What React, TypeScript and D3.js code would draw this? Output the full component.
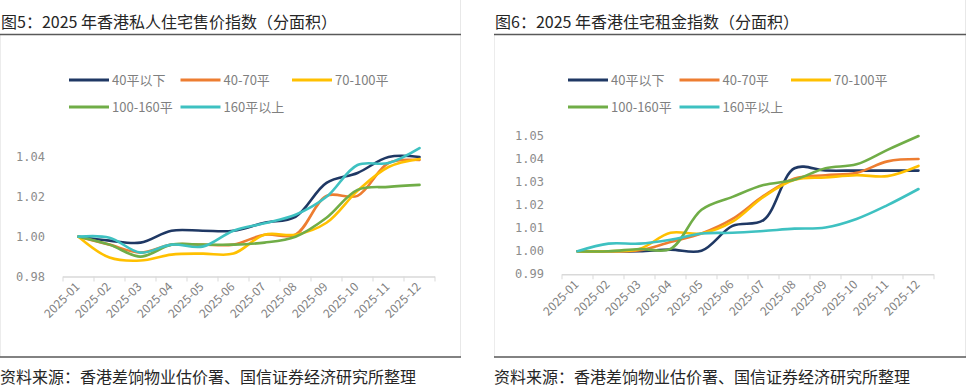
import React from 'react';
import * as d3 from 'd3';

const months = ['2025-01', '2025-02', '2025-03', '2025-04', '2025-05', '2025-06', '2025-07', '2025-08', '2025-09', '2025-10', '2025-11', '2025-12'];
const seriesNames = ['40平以下', '40-70平', '70-100平', '100-160平', '160平以上'];
const seriesColors = ['#1F3864', '#ED7D31', '#FFC000', '#70AD47', '#3EC1C1'];

// 图5 售价指数
const saleUnder40 = [1.000, 0.998, 0.997, 1.003, 1.003, 1.003, 1.007, 1.010, 1.027, 1.032, 1.040, 1.040];
const sale40to70 = [1.000, 0.996, 0.992, 0.996, 0.996, 0.996, 1.001, 1.001, 1.0205, 1.0205, 1.037, 1.0385];
const sale70to100 = [1.000, 0.9895, 0.988, 0.991, 0.9915, 0.9915, 1.001, 1.001, 1.007, 1.023, 1.035, 1.039];
const sale100to160 = [1.000, 0.996, 0.990, 0.996, 0.996, 0.996, 0.997, 1.000, 1.0095, 1.0235, 1.025, 1.026];
const saleOver160 = [1.000, 0.9995, 0.992, 0.996, 0.995, 1.003, 1.0067, 1.011, 1.020, 1.036, 1.037, 1.0445];
const saleTicks = [0.98, 1.0, 1.02, 1.04];

// 图6 租金指数
const rentUnder40 = [1.000, 1.000, 1.000, 1.0007, 1.0002, 1.011, 1.0135, 1.036, 1.035, 1.035, 1.035, 1.035];
const rent40to70 = [1.000, 1.000, 1.0004, 1.004, 1.0077, 1.014, 1.024, 1.0316, 1.033, 1.034, 1.039, 1.040];
const rent70to100 = [1.000, 1.000, 1.001, 1.008, 1.0077, 1.0128, 1.0236, 1.031, 1.032, 1.033, 1.0326, 1.037];
const rent100to160 = [1.000, 1.000, 1.001, 1.001, 1.018, 1.0236, 1.0287, 1.031, 1.036, 1.0377, 1.044, 1.050];
const rentOver160 = [1.000, 1.0033, 1.0033, 1.005, 1.0077, 1.008, 1.0088, 1.0098, 1.0103, 1.014, 1.020, 1.027];
const rentTicks = [0.99, 1.0, 1.01, 1.02, 1.03, 1.04, 1.05];

const CJK = '"Noto Sans CJK SC", "Noto Sans", sans-serif';

interface PanelProps {
  left: number;
  right: number;
  title: string;
  series: number[][];
  ticks: number[];
  yTop: number;
  yBottom: number;
  plotX0: number;
  plotX1: number;
}

const Panel: React.FC<PanelProps> = ({ left, right, title, series, ticks, yTop, yBottom, plotX0, plotX1 }) => {
  const x = d3.scaleBand<string>().domain(months).range([plotX0, plotX1]);
  const y = d3.scaleLinear()
    .domain([ticks[0], ticks[ticks.length - 1]])
    .range([yBottom, yTop]);
  const line = d3.line<number>()
    .x((_, i) => (x(months[i]) as number) + x.bandwidth() / 2)
    .y(d => y(d))
    .curve(d3.curveCatmullRom.alpha(0.5));
  const boundaries = d3.range(months.length + 1).map(i => plotX0 + i * x.bandwidth());

  return (
    <g>
      {/* panel frame */}
      <line x1={right - 0.5} x2={right - 0.5} y1={0} y2={357} stroke="#e8e8e8" />
      <line x1={left + 0.5} x2={left + 0.5} y1={35} y2={357} stroke="#ececec" />
      <text x={left + 1} y={28} fontSize={16} fontFamily={CJK} fill="#262626">{title}</text>
      <line x1={left} x2={right} y1={34.5} y2={34.5} stroke="#595959" strokeWidth={1.3} />

      {/* legend */}
      {seriesNames.map((name, i) => {
        const col = i < 3 ? i : i - 3;
        const row = i < 3 ? 0 : 1;
        const lx = plotX0 + 6 + col * 111.5;
        const ly = 80 + row * 27;
        return (
          <g key={name}>
            <line x1={lx} x2={lx + 40} y1={ly} y2={ly} stroke={seriesColors[i]} strokeWidth={3} />
            <text x={lx + 43} y={ly + 4.5} fontSize={13} fontFamily={CJK} fill="#7f7f7f">{name}</text>
          </g>
        );
      })}

      {/* y tick labels */}
      {ticks.map(t => (
        <text key={t} x={plotX0 - 18} y={y(t) + 4} textAnchor="end" fontSize={12}
          fontFamily='"DejaVu Sans Mono", monospace' fill="#8c8c8c">{t.toFixed(2)}</text>
      ))}

      {/* x axis */}
      <line x1={plotX0} x2={plotX1} y1={yBottom + 0.5} y2={yBottom + 0.5} stroke="#d9d9d9" strokeWidth={1.5} />
      {boundaries.map((b, i) => (
        <line key={i} x1={b} x2={b} y1={yBottom} y2={yBottom + 5} stroke="#d9d9d9" />
      ))}
      {months.map(m => {
        const cx = (x(m) as number) + x.bandwidth() / 2;
        return (
          <text key={m} transform={`translate(${cx + 2},${yBottom + 11}) rotate(-45)`} textAnchor="end"
            fontSize={12} fontFamily={CJK} fill="#7f7f7f">{m}</text>
        );
      })}

      {/* series */}
      {series.map((s, i) => (
        <path key={i} d={line(s) || ''} fill="none" stroke={seriesColors[i]} strokeWidth={2.6}
          strokeLinejoin="round" strokeLinecap="round" />
      ))}

      {/* source */}
      <line x1={left} x2={right} y1={357} y2={357} stroke="#595959" strokeWidth={1.3} />
      <text x={left} y={383} fontSize={16} fontFamily={CJK} fill="#262626">资料来源：香港差饷物业估价署、国信证券经济研究所整理</text>
    </g>
  );
};

export default function App() {
  return (
    <svg width={966} height={389} style={{ position: 'absolute', left: 0, top: 0, background: '#fff' }}>
      <rect width={966} height={389} fill="#fff" />
      <Panel left={0} right={461} title="图5：2025 年香港私人住宅售价指数（分面积）"
        series={[saleUnder40, sale40to70, sale70to100, sale100to160, saleOver160]}
        ticks={saleTicks} yTop={157} yBottom={276.5} plotX0={63} plotX1={435} />
      <Panel left={494} right={966} title="图6：2025 年香港住宅租金指数（分面积）"
        series={[rentUnder40, rent40to70, rent70to100, rent100to160, rentOver160]}
        ticks={rentTicks} yTop={136} yBottom={274.3} plotX0={562} plotX1={934} />
    </svg>
  );
}
